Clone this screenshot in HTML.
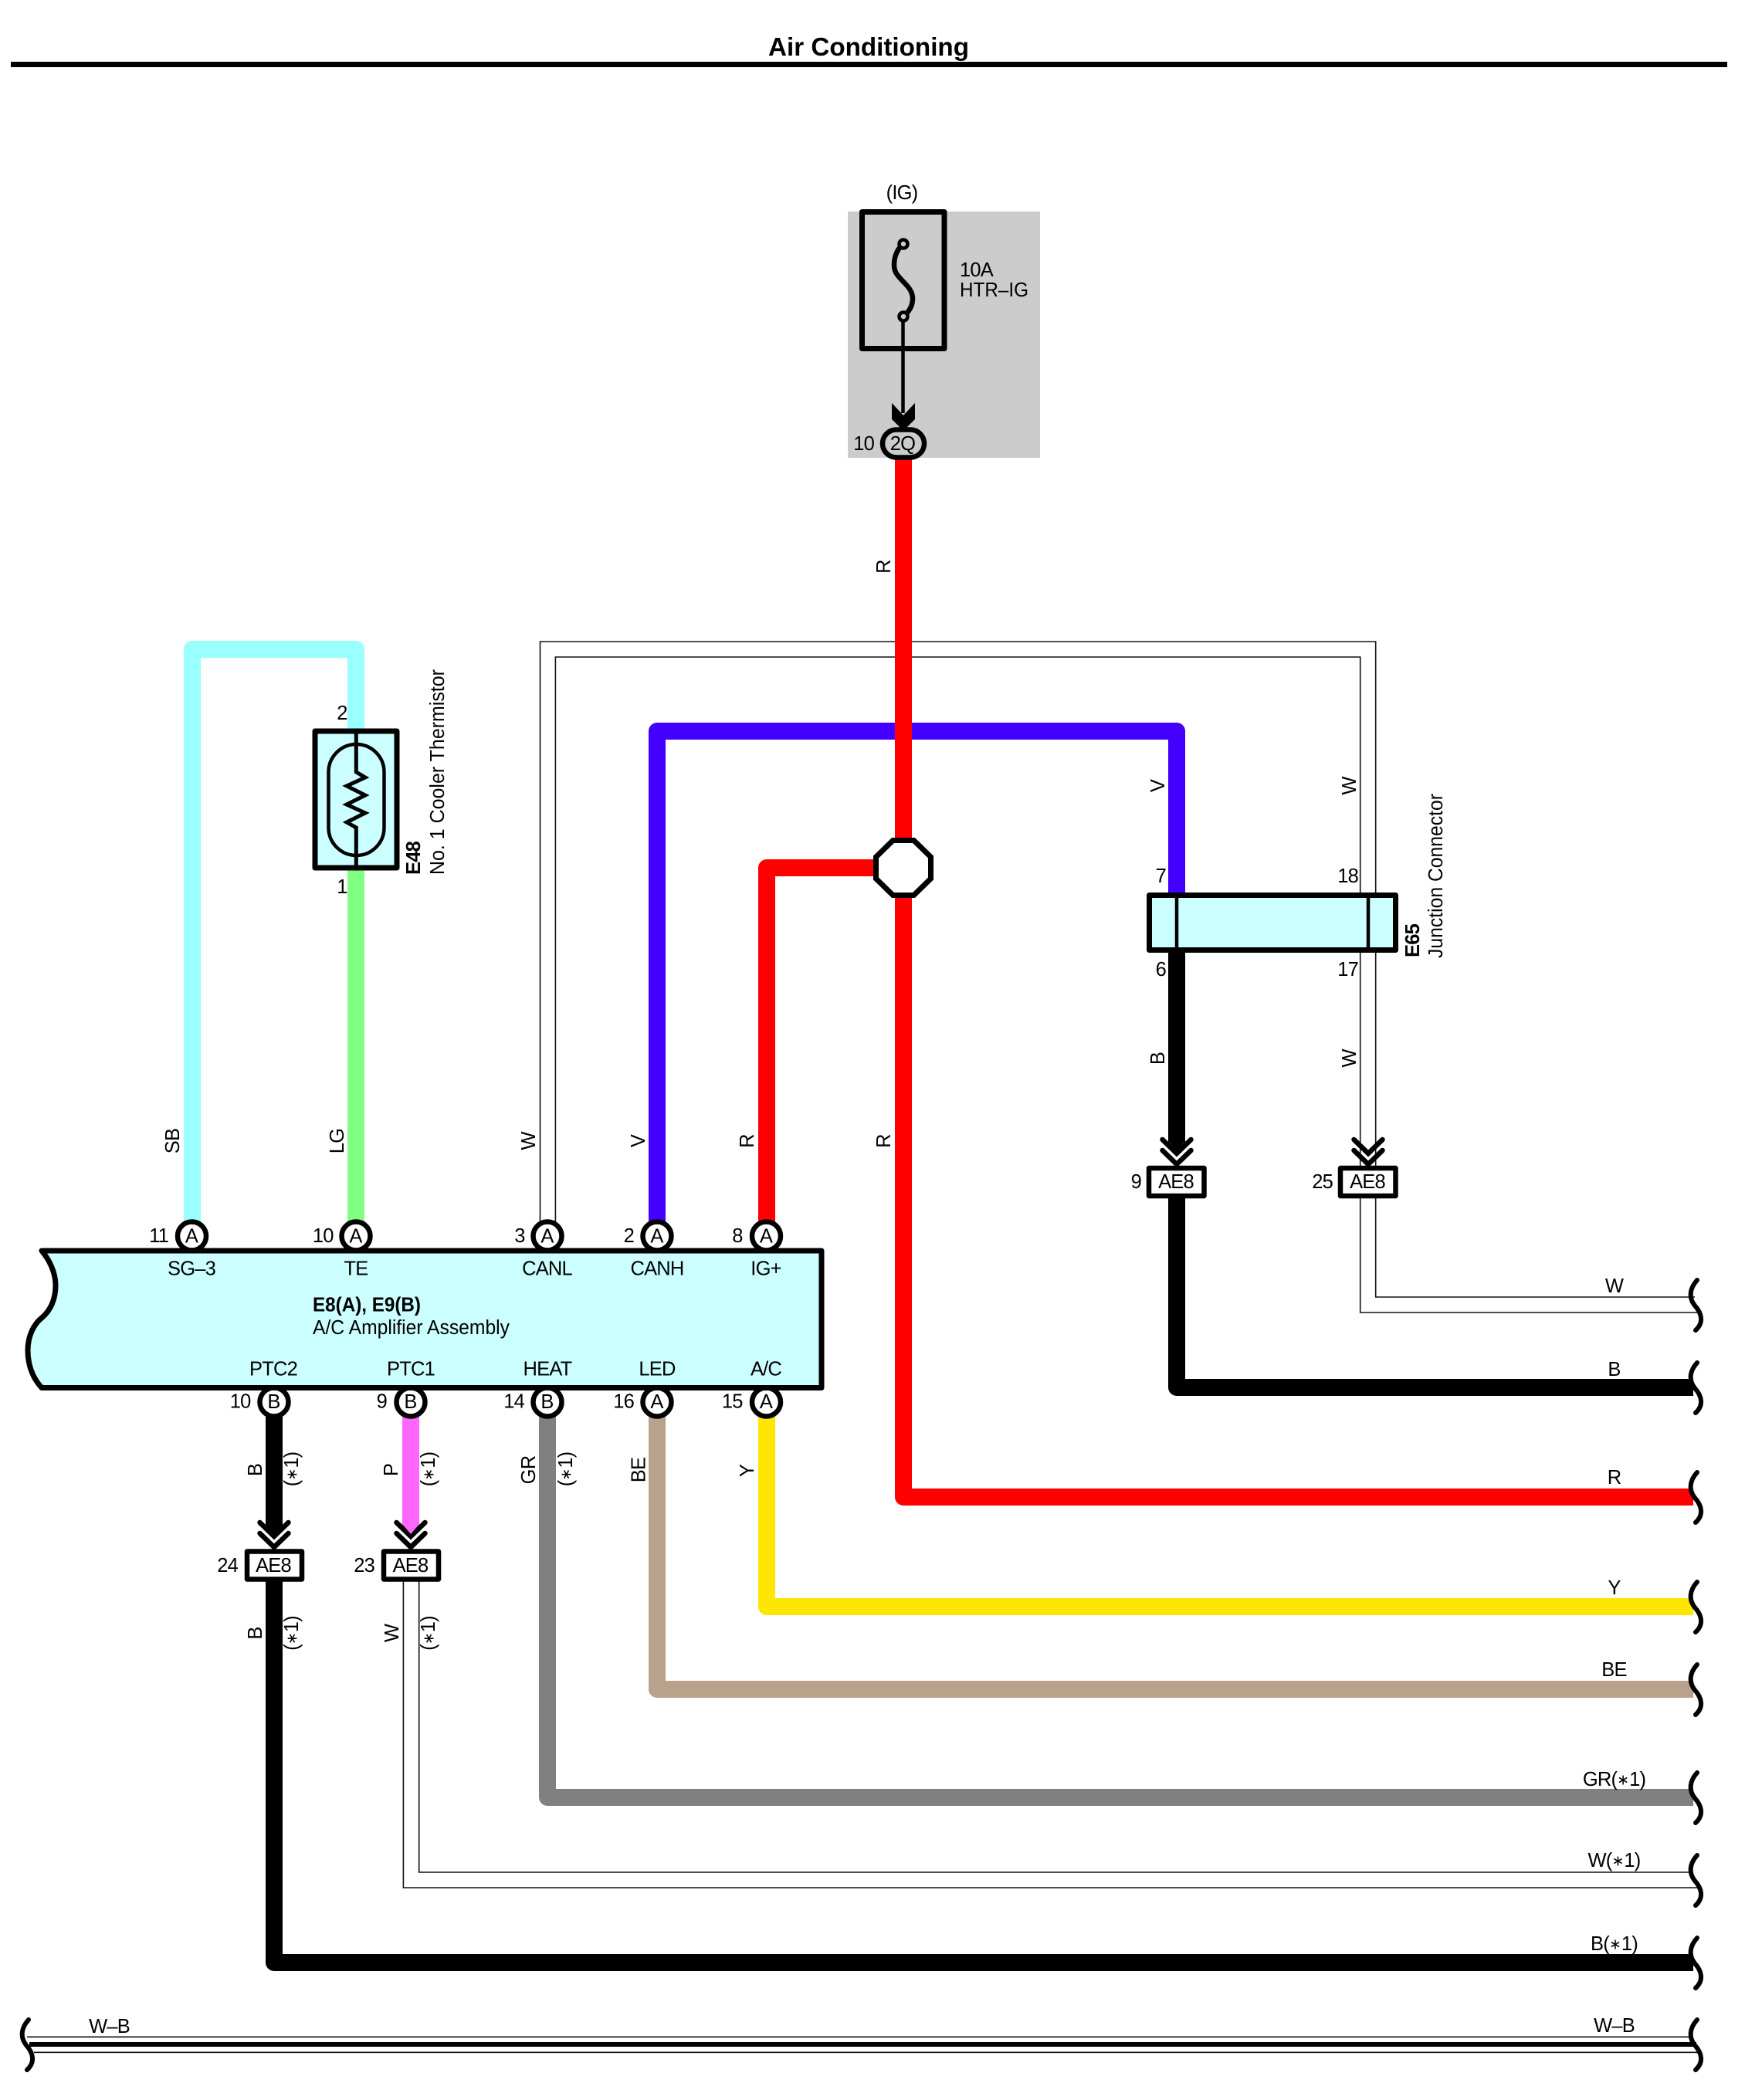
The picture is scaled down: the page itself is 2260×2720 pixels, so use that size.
<!DOCTYPE html>
<html><head><meta charset="utf-8"><title>Air Conditioning</title>
<style>html,body{margin:0;padding:0;background:#fff}svg{display:block}
text{font-family:"Liberation Sans",Arial,sans-serif;font-size:25.5px;letter-spacing:-.8px;fill:#000}
.b{font-weight:bold}.m{text-anchor:middle}.e{text-anchor:end}.s{font-size:19px;letter-spacing:0}.n{letter-spacing:0}</style></head>
<body>
<svg xmlns="http://www.w3.org/2000/svg" width="2260" height="2720" viewBox="0 0 2260 2720">
<rect width="2260" height="2720" fill="#fff"/>
<!-- header -->
<text x="995" y="72" class="b" style="font-size:33px;letter-spacing:0" textLength="260" lengthAdjust="spacingAndGlyphs">Air Conditioning</text>
<rect x="14" y="80" width="2223" height="7" fill="#000"/>
<!-- fuse background -->
<rect x="1098" y="274" width="249" height="319" fill="#ccc"/>

<!-- thin W wires -->
<g fill="none" stroke="#111" stroke-width="1.6">
<path d="M699.5 1582V831H1781.7V1680H2195"/>
<path d="M719.4 1582V851H1761.7V1700H2200"/>
<path d="M522.4 2040V2445H2200"/>
<path d="M542.7 2040V2425H2192"/>
<path d="M35 2638.3H2190"/>
<path d="M44 2658.3H2200"/>
</g>
<path d="M38 2648H2197" stroke="#000" stroke-width="6" fill="none"/>

<!-- thick wires -->
<g fill="none" stroke-width="22" stroke-linejoin="round">
<path d="M249 1585V841H461V950" stroke="#99ffff"/>
<path d="M461 1125V1585" stroke="#80ff80"/>
<path d="M851 1585V947H1524V1160" stroke="#4400ff"/>
<path d="M993 1585V1124H1140" stroke="#ff0000"/>
<path d="M1170 590V1939H2193" stroke="#ff0000"/>
<path d="M1524 1230V1480" stroke="#000"/>
<path d="M1524 1550V1797H2193" stroke="#000"/>
<path d="M355 1830V1980" stroke="#000"/>
<path d="M355 2045V2542H2193" stroke="#000"/>
<path d="M532 1830V1980" stroke="#ff66ff"/>
<path d="M709 1830V2328H2193" stroke="#808080"/>
<path d="M851 1830V2188H2193" stroke="#b8a28c"/>
<path d="M993 1830V2081H2193" stroke="#ffe600"/>
</g>

<!-- fuse -->
<rect x="1116.5" y="274.5" width="106.5" height="177" fill="none" stroke="#000" stroke-width="7" stroke-linejoin="round"/>
<path d="M1170 316C1161 323 1158 334 1158 343C1158 354 1164 358 1170 365C1177 372 1182 378 1182 387C1182 396 1177 404 1170 410" fill="none" stroke="#000" stroke-width="6.5"/>
<circle cx="1170" cy="316" r="5.5" fill="#ccc" stroke="#000" stroke-width="4.5"/>
<circle cx="1170" cy="410" r="5.5" fill="#ccc" stroke="#000" stroke-width="4.5"/>
<path d="M1169.5 416V535" stroke="#000" stroke-width="4.5"/>
<path d="M1155 522L1170 538L1185 522V543L1170 558L1155 543Z" fill="#000"/>
<rect x="1143" y="556.5" width="54" height="36" rx="18" fill="#ccc" stroke="#000" stroke-width="6.5"/>
<text x="1169" y="583" class="m">2Q</text>
<text x="1132" y="583" class="e">10</text>
<text x="1168" y="258" class="m">(IG)</text>
<text x="1243" y="358">10A</text>
<text x="1243" y="384" class="n" textLength="89" lengthAdjust="spacingAndGlyphs">HTR–IG</text>

<!-- thermistor -->
<rect x="408" y="947" width="106" height="177" fill="#ccffff" stroke="#000" stroke-width="7" stroke-linejoin="round"/>
<rect x="425.5" y="964" width="72" height="144" rx="36" fill="none" stroke="#000" stroke-width="4.5"/>
<path d="M461.3 947V1000L473 1007L449 1018L473 1030L449 1042L473 1053L449 1065L461.3 1072V1124" fill="none" stroke="#000" stroke-width="5"/>
<text x="443" y="932" class="m">2</text>
<text x="443" y="1157" class="m">1</text>
<text transform="translate(544,1133) rotate(-90)" class="b">E48</text>
<text transform="translate(575,1133) rotate(-90)" class="n" textLength="266" lengthAdjust="spacingAndGlyphs">No. 1 Cooler Thermistor</text>

<!-- splice -->
<path d="M1156.5 1088.5H1183.5L1205.5 1110V1138L1183.5 1159.5H1156.5L1134.5 1138V1110Z" fill="#fff" stroke="#000" stroke-width="7"/>

<!-- junction E65 -->
<rect x="1488.5" y="1159.5" width="319" height="71" fill="#ccffff" stroke="#000" stroke-width="7" stroke-linejoin="round"/>
<path d="M1524 1160V1231M1772 1160V1231" stroke="#000" stroke-width="4.5"/>
<text x="1510" y="1143" class="e">7</text>
<text x="1759" y="1143" class="e">18</text>
<text x="1510" y="1264" class="e">6</text>
<text x="1759" y="1264" class="e">17</text>
<text transform="translate(1838,1240) rotate(-90)" class="b">E65</text>
<text transform="translate(1868,1241) rotate(-90)" class="n" textLength="213" lengthAdjust="spacingAndGlyphs">Junction Connector</text>

<!-- chevrons + AE8 -->
<g fill="none" stroke="#000" stroke-width="6.5" stroke-linecap="round">
<path d="M1505.5 1476L1524 1494L1542.5 1476M1505.5 1490L1524 1508L1542.5 1490"/>
<path d="M1753.5 1476L1772 1494L1790.5 1476M1753.5 1490L1772 1508L1790.5 1490"/>
<path d="M336.5 1972L355 1990L373.5 1972M336.5 1986L355 2004L373.5 1986"/>
<path d="M513.5 1972L532 1990L550.5 1972M513.5 1986L532 2004L550.5 1986"/>
</g>
<path d="M1513 1478H1535L1524 1491Z" fill="#000"/>
<path d="M344 1974H366L355 1987Z" fill="#000"/>
<path d="M521 1974H543L532 1987Z" fill="#ff66ff"/>
<g fill="#fff" stroke="#000" stroke-width="6.5" stroke-linejoin="round">
<rect x="1488" y="1513" width="71.5" height="36"/>
<rect x="1736" y="1513" width="71.5" height="36"/>
<rect x="320" y="2009.5" width="71" height="36"/>
<rect x="497" y="2009.5" width="71" height="36"/>
</g>
<text x="1523" y="1539" class="m">AE8</text><text x="1771" y="1539" class="m">AE8</text>
<text x="354" y="2036" class="m">AE8</text><text x="531.5" y="2036" class="m">AE8</text>
<text x="1478" y="1539" class="e">9</text><text x="1726" y="1539" class="e">25</text>
<text x="308" y="2036" class="e">24</text><text x="485" y="2036" class="e">23</text>

<!-- pins -->
<g fill="#fff" stroke="#000" stroke-width="6.5">
<circle cx="248.5" cy="1601" r="18.5"/><circle cx="461" cy="1601" r="18.5"/><circle cx="709" cy="1601" r="18.5"/><circle cx="851" cy="1601" r="18.5"/><circle cx="992.5" cy="1601" r="18.5"/>
<circle cx="355" cy="1816" r="18.5"/><circle cx="532" cy="1816" r="18.5"/><circle cx="709" cy="1816" r="18.5"/><circle cx="851" cy="1816" r="18.5"/><circle cx="992.5" cy="1816" r="18.5"/>
</g>
<!-- amplifier box -->
<path d="M54 1797.5C40 1782 36 1765 36 1749C36 1730 44 1715 54 1707C66 1697 72 1682 72 1665C72 1648 64 1632 54 1620H1064V1797.5Z" fill="#ccffff" stroke="#000" stroke-width="7" stroke-linejoin="round"/>

<g>
<text x="248" y="1609.5" class="m">A</text><text x="460.5" y="1609.5" class="m">A</text><text x="708.5" y="1609.5" class="m">A</text><text x="850.5" y="1609.5" class="m">A</text><text x="992" y="1609.5" class="m">A</text>
<text x="354.5" y="1824" class="m">B</text><text x="531.5" y="1824" class="m">B</text><text x="708.5" y="1824" class="m">B</text><text x="850.5" y="1824" class="m">A</text><text x="992" y="1824" class="m">A</text>
<text x="248" y="1651.5" class="m">SG–3</text><text x="461" y="1651.5" class="m">TE</text><text x="708.5" y="1651.5" class="m">CANL</text><text x="851" y="1651.5" class="m">CANH</text><text x="992" y="1651.5" class="m">IG+</text>
<text x="354" y="1781.5" class="m">PTC2</text><text x="532" y="1781.5" class="m">PTC1</text><text x="709" y="1781.5" class="m">HEAT</text><text x="851" y="1781.5" class="m">LED</text><text x="992" y="1781.5" class="m">A/C</text>
</g>
<text x="218" y="1609" class="e">11</text><text x="431.7" y="1609" class="e">10</text><text x="679.6" y="1609" class="e">3</text><text x="821" y="1609" class="e">2</text><text x="961.6" y="1609" class="e">8</text>
<text x="324.5" y="1823.5" class="e">10</text><text x="501" y="1823.5" class="e">9</text><text x="679" y="1823.5" class="e">14</text><text x="821" y="1823.5" class="e">16</text><text x="961.6" y="1823.5" class="e">15</text>
<text x="405" y="1698.5" class="b n" textLength="140" lengthAdjust="spacingAndGlyphs">E8(A), E9(B)</text>
<text x="405" y="1728" class="n" textLength="255" lengthAdjust="spacingAndGlyphs">A/C Amplifier Assembly</text>

<!-- rotated wire labels -->
<g>
<text transform="translate(1153,734) rotate(-90)" class="m">R</text>
<text transform="translate(1153,1478) rotate(-90)" class="m">R</text>
<text transform="translate(232,1478) rotate(-90)" class="m">SB</text>
<text transform="translate(445,1478) rotate(-90)" class="m">LG</text>
<text transform="translate(693,1478) rotate(-90)" class="m">W</text>
<text transform="translate(835,1478) rotate(-90)" class="m">V</text>
<text transform="translate(976,1478) rotate(-90)" class="m">R</text>
<text transform="translate(1508,1018) rotate(-90)" class="m">V</text>
<text transform="translate(1756,1018) rotate(-90)" class="m">W</text>
<text transform="translate(1508,1371) rotate(-90)" class="m">B</text>
<text transform="translate(1756,1371) rotate(-90)" class="m">W</text>
<text transform="translate(339,1904) rotate(-90)" class="m">B</text>
<text transform="translate(515,1904) rotate(-90)" class="m">P</text>
<text transform="translate(693,1904) rotate(-90)" class="m">GR</text>
<text transform="translate(835.5,1904) rotate(-90)" class="m">BE</text>
<text transform="translate(976,1905) rotate(-90)" class="m">Y</text>
<text transform="translate(339,2115.5) rotate(-90)" class="m">B</text>
<text transform="translate(516,2115.5) rotate(-90)" class="m">W</text>
<text transform="translate(386,1903) rotate(-90)" class="m">(<tspan dy="-1.5" class="s">∗</tspan><tspan dy="1.5">1)</tspan></text>
<text transform="translate(563,1903) rotate(-90)" class="m">(<tspan dy="-1.5" class="s">∗</tspan><tspan dy="1.5">1)</tspan></text>
<text transform="translate(741,1903) rotate(-90)" class="m">(<tspan dy="-1.5" class="s">∗</tspan><tspan dy="1.5">1)</tspan></text>
<text transform="translate(386,2115.5) rotate(-90)" class="m">(<tspan dy="-1.5" class="s">∗</tspan><tspan dy="1.5">1)</tspan></text>
<text transform="translate(563,2115.5) rotate(-90)" class="m">(<tspan dy="-1.5" class="s">∗</tspan><tspan dy="1.5">1)</tspan></text>
</g>

<!-- horizontal wire labels -->
<text x="2090.5" y="1674" class="m">W</text>
<text x="2090.5" y="1782" class="m">B</text>
<text x="2090.5" y="1922" class="m">R</text>
<text x="2090.5" y="2065" class="m">Y</text>
<text x="2090.5" y="2171" class="m">BE</text>
<text x="2090.5" y="2313" class="m">GR(<tspan dy="-1.5" class="s">∗</tspan><tspan dy="1.5">1)</tspan></text>
<text x="2090.5" y="2418" class="m">W(<tspan dy="-1.5" class="s">∗</tspan><tspan dy="1.5">1)</tspan></text>
<text x="2090.5" y="2526" class="m">B(<tspan dy="-1.5" class="s">∗</tspan><tspan dy="1.5">1)</tspan></text>
<text x="2090.5" y="2632" class="m">W–B</text>
<text x="141.5" y="2633" class="m">W–B</text>

<!-- break squiggles -->
<g fill="none" stroke="#000" stroke-width="6" stroke-linecap="round">
<path d="M2198 1658C2188 1669 2187 1681 2195 1691C2204 1701 2207 1713 2196 1723"/>
<path d="M2198 1765C2188 1776 2187 1788 2195 1798C2204 1808 2207 1820 2196 1830"/>
<path d="M2198 1907C2188 1918 2187 1930 2195 1940C2204 1950 2207 1962 2196 1972"/>
<path d="M2198 2049C2188 2060 2187 2072 2195 2082C2204 2092 2207 2104 2196 2114"/>
<path d="M2198 2156C2188 2167 2187 2179 2195 2189C2204 2199 2207 2211 2196 2221"/>
<path d="M2198 2296C2188 2307 2187 2319 2195 2329C2204 2339 2207 2351 2196 2361"/>
<path d="M2198 2403C2188 2414 2187 2426 2195 2436C2204 2446 2207 2458 2196 2468"/>
<path d="M2198 2510C2188 2521 2187 2533 2195 2543C2204 2553 2207 2565 2196 2575"/>
<path d="M2198 2616C2188 2627 2187 2639 2195 2649C2204 2659 2207 2671 2196 2681"/>
<path d="M37 2616C27 2627 26 2639 34 2649C43 2659 46 2671 35 2681"/>
</g>
</svg>
</body></html>
